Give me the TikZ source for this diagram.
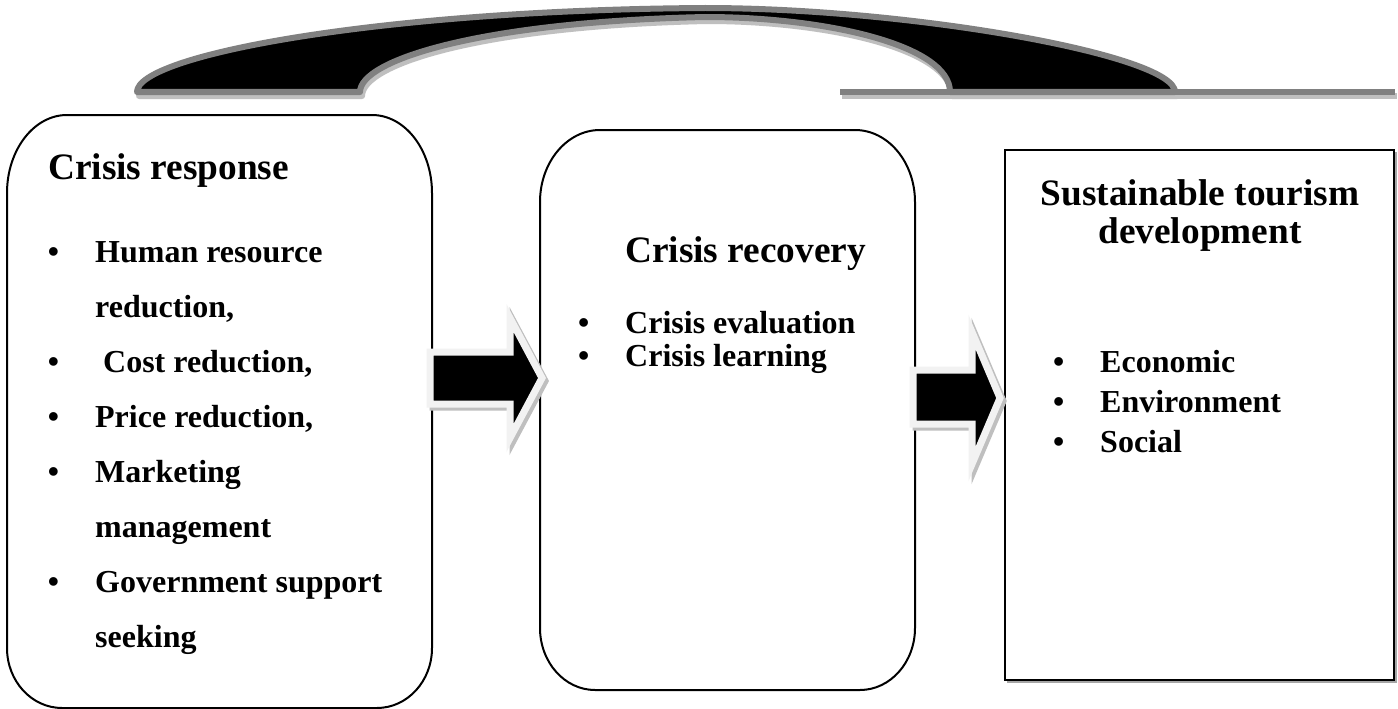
\documentclass[tikz,border=0pt]{standalone}
\usepackage{fontspec}
\setmainfont{Liberation Serif}
\newcommand\bul{\llap{\textbullet\hspace{36pt}}}
\begin{document}
\begin{tikzpicture}[x=1pt,y=-1pt,
  boxline/.style={draw=black,line width=2pt},
  swoosh/.style={fill=black,draw=black!50,line width=6pt,line join=round},
  swshadow/.style={fill=black!25,draw=black!25,line width=6pt,line join=round},
  baseline/.style={draw=black!50,line width=6pt},
  barrow/.style={fill=black,draw=black!5,line width=7pt,line join=miter},
  bshadow/.style={fill=black!25,draw=black!25,line width=7pt,line join=miter},
  titletext/.style={font=\bfseries\fontsize{37.3}{43}\selectfont,inner sep=0pt},
  itemtext/.style={font=\bfseries\fontsize{32}{55}\selectfont,inner sep=0pt,anchor=base west,align=left},
]
\useasboundingbox (0,0) rectangle (1398,709);
\fill[white] (0,0) rectangle (1398,709);

% ---- top swoosh ----
\begin{scope}[shift={(2,4)}]
  \draw[black!25,line width=6pt] (840,92) -- (1395,92);
  \path[swshadow] (137,92) .. controls (137,55) and (380,10) .. (705,8)
     .. controls (910,8) and (1175,55) .. (1175,92) -- (950,92)
     .. controls (950,45) and (825,17) .. (705,17)
     .. controls (480,22) and (360,60) .. (360,92) -- cycle;
\end{scope}
\draw[baseline] (840,92) -- (1395,92);
\path[swoosh] (137,92) .. controls (137,55) and (380,10) .. (705,8)
   .. controls (910,8) and (1175,55) .. (1175,92) -- (950,92)
   .. controls (950,45) and (825,17) .. (705,17)
   .. controls (480,22) and (360,60) .. (360,92) -- cycle;

% ---- boxes ----
\coordinate (b1) at (219,411);
\draw[boxline] (7,193) .. controls (7,149.9) and (33.9,115) .. (67,115) -- (372,115)
  .. controls (405.1,115) and (432,149.9) .. (432,193) -- (432,648)
  .. controls (432,681.1) and (407.4,708) .. (377,708) -- (62,708)
  .. controls (31.6,708) and (7,681.1) .. (7,648) -- cycle;
\coordinate (b2) at (727,410);
\draw[boxline] (540,202) .. controls (540,162.2) and (566.9,130) .. (600,130) -- (855,130)
  .. controls (888.1,130) and (915,162.2) .. (915,202) -- (915,628)
  .. controls (915,662.2) and (890.4,690) .. (860,690) -- (595,690)
  .. controls (564.6,690) and (540,662.2) .. (540,628) -- cycle;
\draw[black!35,line width=2pt] (1007,682) -- (1396,682) -- (1396,152);
\draw[boxline] (1005,150) rectangle (1394,680);

% ---- block arrows ----
\path[bshadow] (433,355) -- (513,355) -- (513,321) -- (545,381) -- (513,441) -- (513,407) -- (433,407) -- cycle;
\path[barrow] (430,352) -- (510,352) -- (510,318) -- (542,378) -- (510,438) -- (510,404) -- (430,404) -- cycle;
\path[bshadow] (916,373) -- (975,373) -- (975,335) -- (1003,401) -- (975,467) -- (975,427) -- (916,427) -- cycle;
\path[barrow] (913,370) -- (972,370) -- (972,332) -- (1000,398) -- (972,464) -- (972,424) -- (913,424) -- cycle;

% ---- texts (multi-line nodes: base = last line) ----
\node[titletext,anchor=base west] (t1) at (48,179) {Crisis response};
\node[itemtext] (i1) at (95,317) {\bul Human resource\\reduction,};
\node[itemtext] (i2) at (95,372) {\bul\ Cost reduction,};
\node[itemtext] (i3) at (95,427) {\bul Price reduction,};
\node[itemtext] (i4) at (95,537) {\bul Marketing\\management};
\node[itemtext] (i5) at (95,647) {\bul Government support\\seeking};

\node[titletext,anchor=base west] (t2) at (625,262) {Crisis recovery};
\node[itemtext,font=\bfseries\fontsize{32}{33}\selectfont] (i6) at (625,366)
  {\bul Crisis evaluation\\\bul Crisis learning};

\node[titletext,anchor=base,align=center,font=\bfseries\fontsize{37.3}{38}\selectfont] (t3) at (1200,243)
  {Sustainable tourism\\development};
\node[itemtext,font=\bfseries\fontsize{32}{40}\selectfont] (i7) at (1100,452)
  {\bul Economic\\\bul Environment\\\bul Social};
\end{tikzpicture}
\end{document}
